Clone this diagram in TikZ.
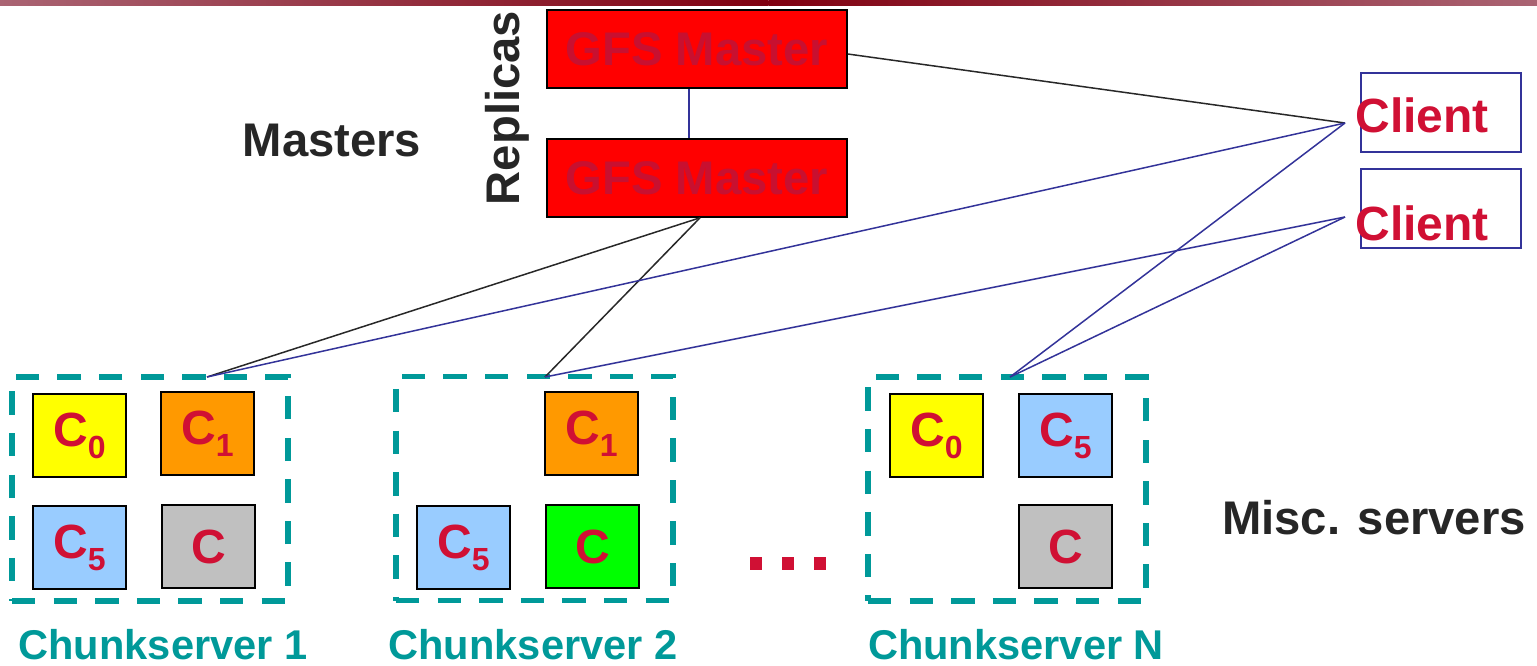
\documentclass[tikz,border=0pt]{standalone}
\usepackage{fontspec}
\setmainfont{Liberation Sans}
\usetikzlibrary{calc}
\definecolor{crim}{RGB}{208,16,52}
\definecolor{mastertxt}{RGB}{200,16,48}
\definecolor{gfsred}{RGB}{255,0,0}
\definecolor{csteal}{RGB}{0,153,153}
\definecolor{linkblue}{RGB}{51,51,153}
\definecolor{linkdark}{RGB}{40,40,40}
\definecolor{darktxt}{RGB}{38,38,38}
\definecolor{barmid}{RGB}{128,0,16}
\definecolor{baredge}{RGB}{170,100,115}
\definecolor{cyellow}{RGB}{255,255,0}
\definecolor{corange}{RGB}{255,153,0}
\definecolor{cblue}{RGB}{153,204,255}
\definecolor{cgray}{RGB}{192,192,192}
\definecolor{cgreen}{RGB}{0,255,0}
% lowered, smaller index after a chunk letter
\newcommand{\csub}[1]{\raisebox{-6pt}{\fontsize{16}{16}\selectfont #1}}
\begin{document}
\begin{tikzpicture}[x=0.5pt,y=-0.5pt,
  master/.style={draw=black,line width=0.8pt,fill=gfsred,minimum width=150pt,
    minimum height=39pt,inner sep=0pt,font=\bfseries\fontsize{23.6}{23.6}\selectfont,text=mastertxt},
  clientbox/.style={draw=linkblue,line width=0.8pt,minimum width=80pt,minimum height=39.5pt,inner sep=0pt},
  clienttxt/.style={anchor=base west,inner sep=0pt,font=\bfseries\fontsize{24}{24}\selectfont,text=crim},
  chunk/.style={draw=black,line width=0.8pt,minimum width=46.5pt,minimum height=41.5pt,
    inner sep=0pt,font=\bfseries\fontsize{24}{24}\selectfont,text=crim},
  frame/.style={draw=csteal,line width=2.6pt,dash pattern=on 11.7pt off 9.1pt,
    minimum height=112pt,inner sep=0pt},
  darkline/.style={draw=linkdark,line width=0.75pt},
  blueline/.style={draw=linkblue,line width=0.75pt},
  lbl/.style={font=\bfseries\fontsize{23.6}{23.6}\selectfont,text=darktxt,inner sep=0pt},
  cslbl/.style={anchor=base,font=\bfseries\fontsize{20.8}{20.8}\selectfont,text=csteal,inner sep=0pt},
  dot/.style={fill=crim,minimum size=6.4pt,inner sep=0pt}
]
\useasboundingbox (0,0) rectangle (1537,665);

% title bar
\shade[left color=baredge,right color=barmid] (0,0) rectangle (768.5,5);
\shade[left color=barmid,right color=baredge] (768.5,0) rectangle (1537,5);

% masters
\node[master] (m1) at (697,49) {GFS Master};
\node[master] (m2) at (697,178) {GFS Master};
\node[lbl] (lmasters) at (332,140) {Masters};
\node[lbl,rotate=90] (lrep) at (507,108) {Replicas};

% clients
\node[clientbox] (cl1) at (1441,112.5) {};
\node[clientbox] (cl2) at (1441,208.5) {};
\node[clienttxt] (ct1) at (1355,132) {Client};
\node[clienttxt] (ct2) at (1355,240) {Client};
\coordinate (c1p) at (1345,123);
\coordinate (c2p) at (1345,217);

% chunkserver frames
\node[frame,minimum width=138pt] (f1) at (150,489) {};
\node[frame,minimum width=138.5pt] (f2) at (534.5,488.5) {};
\node[frame,minimum width=139pt] (fN) at (1007,489) {};
\coordinate (t1) at (207,377);
\coordinate (t2) at (545,377);
\coordinate (tN) at (1010,377);

% chunks on server 1
\node[chunk,fill=cyellow] (a0) at (79.5,435.5) {C\csub{0}};
\node[chunk,fill=corange] (a1) at (207.5,433.5) {C\csub{1}};
\node[chunk,fill=cblue] (a5) at (79.5,547.5) {C\csub{5}};
\node[chunk,fill=cgray] (ag) at (208.5,546.5) {C};
% chunks on server 2
\node[chunk,fill=corange] (b1) at (591.5,433.5) {C\csub{1}};
\node[chunk,fill=cblue] (b5) at (463.5,547.5) {C\csub{5}};
\node[chunk,fill=cgreen] (bg) at (592.5,546.5) {C};
% chunks on server N
\node[chunk,fill=cyellow] (n0) at (936.5,435.5) {C\csub{0}};
\node[chunk,fill=cblue] (n5) at (1065.5,435.5) {C\csub{5}};
\node[chunk,fill=cgray] (ng) at (1065.5,546.5) {C};

% ellipsis between servers
\node[dot] (d1) at (756,563.5) {};
\node[dot] (d2) at (788,563.5) {};
\node[dot] (d3) at (820,563.5) {};

% labels
\node[cslbl] (l1) at (163,659) {Chunkserver 1};
\node[cslbl] (l2) at (533,659) {Chunkserver 2};
\node[cslbl] (lN) at (1016,659) {Chunkserver N};
\node[lbl] (lmisc) at (1374,518) {Misc. servers};

% connections
\draw[blueline] ($(m1.south)+(-8,0)$) -- ($(m2.north)+(-8,0)$);
\draw[darkline] ($(m1.east)+(0,5)$) -- (c1p);
\draw[darkline] ($(m2.south)+(3,0)$) -- (t1);
\draw[darkline] ($(m2.south)+(3,0)$) -- (t2);
\draw[blueline] (c1p) -- (t1);
\draw[blueline] (c1p) -- (tN);
\draw[blueline] (c2p) -- (t2);
\draw[blueline] (c2p) -- (tN);
\end{tikzpicture}
\end{document}
